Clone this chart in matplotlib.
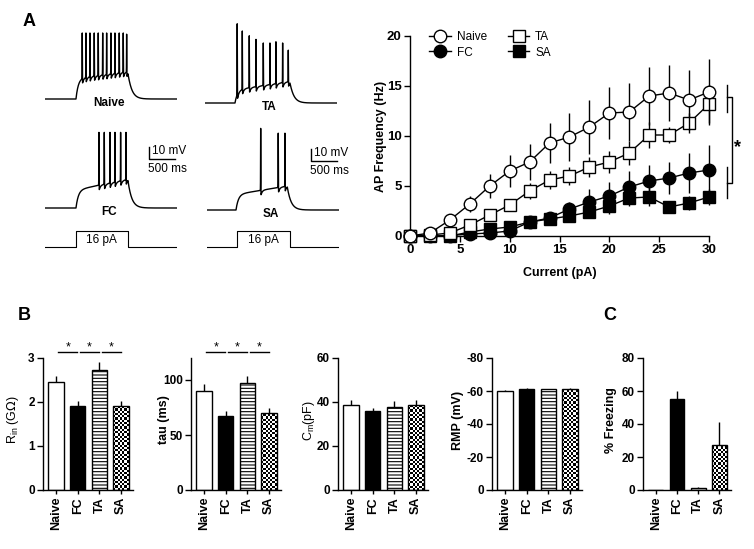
import numpy as np
import matplotlib.pyplot as plt
from matplotlib.lines import Line2D

plt.rcParams['font.family'] = ['Liberation Sans', 'DejaVu Sans']
plt.rcParams['axes.linewidth'] = 1.0
plt.rcParams['axes.unicode_minus'] = False
plt.rcParams['hatch.linewidth'] = 0.8
plt.rcParams['xtick.major.width'] = 1.0
plt.rcParams['ytick.major.width'] = 1.0

W, H = 754, 549

# ---- AP frequency vs injected current (panel A, right) ----
current = [0, 2, 4, 6, 8, 10, 12, 14, 16, 18, 20, 22, 24, 26, 28, 30]
naive_f = [0, 0.3, 1.6, 3.2, 5.0, 6.5, 7.4, 9.3, 9.9, 10.9, 12.3, 12.4, 14.0, 14.3, 13.6, 14.4]
naive_e = [0, 0.2, 0.4, 0.8, 1.2, 1.6, 1.8, 2.0, 2.4, 2.7, 2.6, 2.9, 2.9, 2.8, 3.0, 3.3]
ta_f = [0, 0.1, 0.3, 1.1, 2.1, 3.1, 4.5, 5.6, 6.0, 6.9, 7.4, 8.3, 10.1, 10.1, 11.3, 13.2]
ta_e = [0, 0.1, 0.2, 0.4, 0.5, 0.6, 0.8, 0.9, 0.9, 1.0, 1.1, 1.2, 1.3, 0.8, 1.0, 1.9]
fc_f = [0, 0, 0.05, 0.2, 0.3, 0.5, 1.4, 1.8, 2.7, 3.4, 4.0, 4.9, 5.5, 5.8, 6.3, 6.6]
fc_e = [0, 0, 0.05, 0.1, 0.2, 0.3, 0.5, 0.6, 0.7, 1.3, 1.4, 1.6, 1.6, 1.6, 2.0, 2.5]
sa_f = [0, 0, 0, 0.4, 0.7, 0.9, 1.4, 1.7, 2.0, 2.4, 3.0, 3.8, 3.9, 2.9, 3.3, 3.9]
sa_e = [0, 0, 0, 0.2, 0.3, 0.3, 0.4, 0.5, 0.6, 0.6, 0.8, 0.8, 0.9, 0.6, 0.7, 0.8]

# ---- passive properties (panel B) and freezing (panel C) ----
groups = ['Naive', 'FC', 'TA', 'SA']
rin = [2.45, 1.9, 2.72, 1.9]
rin_e = [0.15, 0.12, 0.18, 0.12]
tau = [90, 67, 97, 70]
tau_e = [6.5, 5, 7, 5]
cm = [38.6, 35.9, 37.6, 38.6]
cm_e = [2.3, 1.2, 2.9, 2.3]
rmp = [-60.2, -61.3, -61.0, -61.5]
rmp_e = [0.3, 0.3, 0.3, 0.3]
freezing = [0, 55, 1.5, 27.5]
freezing_e = [0, 5, 0.5, 14]

# ---- example traces: spike times (ms) and peaks (mV) ----
naive_spk_t = [717, 788, 865, 948, 1025, 1110, 1186, 1269, 1346, 1429, 1506, 1571]
naive_spk_v = [-5, -5, -5, -5, -5, -5, -5, -5, -5, -5, -5, -6]
ta_spk_t = [620, 718, 852, 981, 1122, 1250, 1365, 1494, 1603]
ta_spk_v = [6, 0, -4, -7, -10, -10, -9, -10, -16]
fc_spk_t = [1038, 1141, 1250, 1346, 1455, 1558]
fc_spk_v = [3, 3, 3, 3, 3, 3]
sa_spk_t = [1033, 1371, 1500]
sa_spk_v = [8, 4, 4]
step_pa = 16

fig = plt.figure(figsize=(W / 100, H / 100), dpi=100)


def px_axes(left, top, width, height):
    return fig.add_axes([left / W, 1 - (top + height) / H, width / W, height / H])


# ------------------------------------------------------------ traces
t = np.arange(0, 2541, 1.0)


def make_trace(onset, offset, v_start, v_end, spk_t, spk_v, base=-60.0):
    v = np.full_like(t, base)
    on = (t >= onset) & (t < offset)
    ramp = v_start + (v_end - v_start) * (t[on] - onset) / (offset - onset)
    v[on] = base + (ramp - base) * (1 - np.exp(-(t[on] - onset) / 45.0))
    last = v[on][-1]
    off = t >= offset
    v[off] = base + (last - base) * np.exp(-(t[off] - offset) / 70.0)
    for ts, vp in zip(spk_t, spk_v):
        after = t > ts
        v[after] -= 5.0 * np.exp(-(t[after] - ts) / 25.0)
        local = np.interp(ts, t, v)
        v += (vp - local) * np.exp(-0.5 * ((t - ts) / 2.0) ** 2)
    return v


def trace_panel(left, base_px, v, label):
    ax = px_axes(left, base_px - 84, 132, 90)
    ax.plot(t, v, color='k', lw=1.0)
    ax.set_xlim(0, 2540)
    ax.set_ylim(-65, 10)
    ax.axis('off')
    ax.text(1230, -63, label, ha='center', va='center', fontsize=8.5, fontweight='bold')
    return ax


def scale_bar(ax):
    ax.plot([2000, 2000, 2500], [-9, -19, -19], color='k', lw=1, clip_on=False)
    ax.text(2050, -12.5, '10 mV', ha='left', va='center', fontsize=8.5)
    ax.text(1975, -27.5, '500 ms', ha='left', va='center', fontsize=8.5)


trace_panel(45, 99, make_trace(596, 1596, -42.5, -37, naive_spk_t, naive_spk_v), 'Naive')
trace_panel(205, 103, make_trace(577, 1635, -49, -42, ta_spk_t, ta_spk_v), 'TA')
ax_fc = trace_panel(45, 208, make_trace(596, 1596, -45, -36, fc_spk_t, fc_spk_v), 'FC')
ax_sa = trace_panel(207, 210, make_trace(558, 1545, -47, -40, sa_spk_t, sa_spk_v), 'SA')
scale_bar(ax_fc)
scale_bar(ax_sa)

for left, onset, offset in [(45, 596, 1596), (207, 577, 1596)]:
    ax = px_axes(left, 227, 132, 24)
    ax.plot([0, onset, onset, offset, offset, 2540], [0, 0, step_pa, step_pa, 0, 0],
            color='k', lw=0.8)
    ax.set_xlim(0, 2540)
    ax.set_ylim(-4, 20)
    ax.axis('off')
    ax.text((onset + offset) / 2 - 10, 7, f'{step_pa} pA', ha='center', va='center', fontsize=8.5)

# ------------------------------------------------------------ F-I curve
ax = px_axes(410, 36, 299, 200)
series = [
    ('SA', sa_f, sa_e, 's', 'black', 8.5, 3),
    ('FC', fc_f, fc_e, 'o', 'black', 9, 4),
    ('TA', ta_f, ta_e, 's', 'white', 8.5, 5),
    ('Naive', naive_f, naive_e, 'o', 'white', 9, 6),
]
handles = {}
for name, f, e, m, fc, ms, z in series:
    eb = ax.errorbar(current, f, yerr=e, fmt='-' + m, color='k', mfc=fc, mec='k', ms=ms,
                     mew=1, lw=1, elinewidth=1, capsize=0, zorder=z)
    for art in eb.get_children():
        art.set_clip_on(False)
    handles[name] = Line2D([], [], color='k', marker=m, mfc=fc, mec='k', ms=ms, mew=1, lw=1)

ax.set_xlim(0, 30)
ax.set_ylim(0, 20)
ax.set_xticks([0, 5, 10, 15, 20, 25, 30])
ax.set_yticks([0, 5, 10, 15, 20])
ax.spines['top'].set_visible(False)
ax.spines['right'].set_visible(False)
ax.tick_params(direction='out', length=4, labelsize=9.5, pad=2)
for lab in ax.get_xticklabels() + ax.get_yticklabels():
    lab.set_fontweight('bold')
ax.set_xlabel('Current (pA)', fontsize=9, fontweight='bold')
ax.set_ylabel('AP Frequency (Hz)', fontsize=9, fontweight='bold')
ax.xaxis.set_label_coords(0.5, -0.155)
ax.yaxis.set_label_coords(-0.077, 0.5)

ax.legend([handles[k] for k in ['Naive', 'FC', 'TA', 'SA']], ['Naive', 'FC', 'TA', 'SA'],
          ncol=2, loc='upper left', bbox_to_anchor=(429.5 / W, 1 - 31 / H),
          bbox_transform=fig.transFigure, frameon=False, fontsize=8.5, handlelength=1.8,
          handletextpad=0.5, columnspacing=1.8, labelspacing=0.3, borderpad=0,
          borderaxespad=0, numpoints=1)

# significance bracket
kw = dict(color='k', lw=1, clip_on=False)
ax.plot([31.8, 31.8], [12.4, 15.1], **kw)
ax.plot([31.8, 31.8], [3.8, 6.9], **kw)
ax.plot([31.8, 32.3, 32.3, 31.8], [13.9, 13.9, 5.3, 5.3], **kw)
ax.text(32.9, 8.4, '*', ha='center', va='baseline', fontsize=13, fontweight='bold')


# ------------------------------------------------------------ bar panels
def bar_panel(left, vals, errs, ylim, yticks, ylabel, label_x, bold_label=True,
              sig=False, inverted=False, width_px=90):
    ax = px_axes(left, 358, width_px, 132)
    x = np.arange(len(groups))
    bars = ax.bar(x, vals, 0.7, color=['white', 'black', 'white', 'white'],
                  edgecolor='black', linewidth=1, zorder=2)
    bars[2].set_hatch('-----')
    # checkerboard fill for SA
    span = abs(ylim[1] - ylim[0])
    hpx = abs(vals[3]) / span * 132
    nx, ny = 7, max(int(hpx / 2.2), 1)
    checker = np.add.outer(np.arange(ny), np.arange(nx)) % 2
    im = ax.imshow(checker, cmap='gray', vmin=0, vmax=1, extent=(2.65, 3.35, 0, vals[3]),
                   origin='lower', aspect='auto', interpolation='nearest', zorder=2.5)
    im.set_clip_path(bars[3])
    bars[3].set_facecolor('none')
    bars[3].set_zorder(3)
    z = np.zeros(len(groups))
    yerr = [errs, z] if inverted else [z, errs]
    ax.errorbar(x, vals, yerr=yerr, fmt='none', ecolor='k', elinewidth=1, capsize=0, zorder=1)
    ax.set_xlim(-0.6, 3.55)
    ax.set_ylim(*ylim)
    ax.set_yticks(yticks)
    ax.set_xticks(x)
    ax.set_xticklabels(groups, rotation=90, fontsize=9, fontweight='bold')
    ax.spines['top'].set_visible(False)
    ax.spines['right'].set_visible(False)
    ax.tick_params(direction='out', length=4, pad=2)
    ax.tick_params(axis='y', labelsize=8.5)
    ax.tick_params(axis='x', length=3)
    for lab in ax.get_yticklabels():
        lab.set_fontweight('bold')
    ax.set_ylabel(ylabel, fontsize=9, fontweight='bold' if bold_label else 'normal')
    ax.yaxis.set_label_coords(label_x, 0.53)
    if sig:
        for i in range(3):
            ax.plot([i + 0.1, i + 0.98], [1.045, 1.045], color='k', lw=1,
                    transform=ax.get_xaxis_transform(), clip_on=False)
            ax.text(i + 0.54, 1.06, '*', ha='center', va='baseline', fontsize=9,
                    transform=ax.get_xaxis_transform())
    return ax


bar_panel(43, rin, rin_e, (0, 3), [0, 1, 2, 3], r'R$_{\mathregular{in}}$ (G$\Omega$)', -0.245,
          bold_label=False, sig=True)
bar_panel(191, tau, tau_e, (0, 120), [0, 50, 100], 'tau (ms)', -0.235, sig=True)
bar_panel(338, cm, cm_e, (0, 60), [0, 20, 40, 60], r'C$_{\mathregular{m}}$(pF)', -0.235,
          bold_label=False)
bar_panel(492, rmp, rmp_e, (0, -80), [0, -20, -40, -60, -80], 'RMP (mV)', -0.31, inverted=True)
bar_panel(643, freezing, freezing_e, (0, 80), [0, 20, 40, 60, 80], '% Freezing', -0.29,
          width_px=88)

# panel letters
fig.text(29 / W, 1 - 21 / H, 'A', ha='center', va='center', fontsize=13, fontweight='bold')
fig.text(24 / W, 1 - 316 / H, 'B', ha='center', va='center', fontsize=13, fontweight='bold')
fig.text(610 / W, 1 - 316 / H, 'C', ha='center', va='center', fontsize=13, fontweight='bold')

fig.savefig('out.png', dpi=100)
